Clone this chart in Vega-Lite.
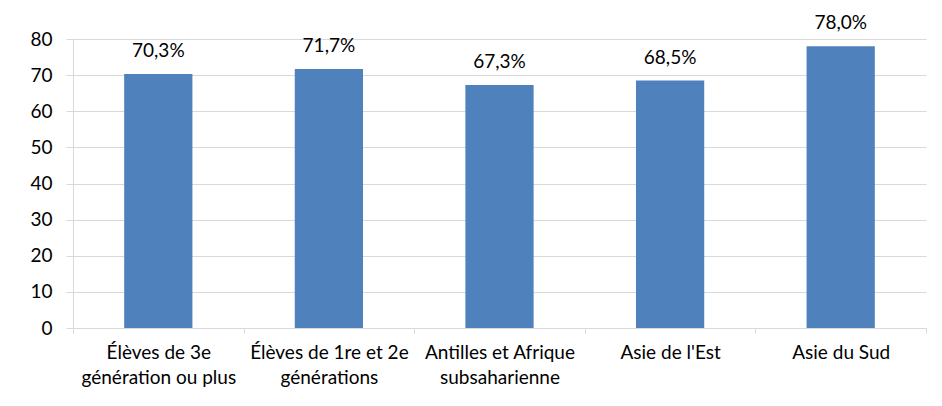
{
  "$schema": "https://vega.github.io/schema/vega-lite/v6.json",
  "autosize": {"type": "none"},
  "padding": {"left": 73, "top": 39, "right": 16, "bottom": 78},
  "width": 853,
  "height": 289,
  "background": "white",
  "data": {
    "values": [
      {"groupe": "Élèves de 3e|génération ou plus", "valeur": 70.3, "etiquette": "70,3%"},
      {"groupe": "Élèves de 1re et 2e|générations", "valeur": 71.7, "etiquette": "71,7%"},
      {"groupe": "Antilles et Afrique|subsaharienne", "valeur": 67.3, "etiquette": "67,3%"},
      {"groupe": "Asie de l'Est", "valeur": 68.5, "etiquette": "68,5%"},
      {"groupe": "Asie du Sud", "valeur": 78.0, "etiquette": "78,0%"}
    ]
  },
  "encoding": {
    "x": {
      "field": "groupe", "type": "nominal", "sort": null,
      "scale": {"paddingInner": 0, "paddingOuter": 0},
      "axis": {
        "title": null, "labelAngle": 0, "tickBand": "extent",
        "labelExpr": "split(datum.label, '|')",
        "labelFont": "Lato", "labelFontSize": 19, "labelColor": "#000000",
        "labelLineHeight": 25, "labelPadding": 10, "labelBaseline": "top",
        "tickSize": 5, "tickColor": "#d9d9d9", "domainColor": "#d9d9d9",
        "grid": false, "labelLimit": 300
      }
    },
    "y": {
      "field": "valeur", "type": "quantitative",
      "scale": {"domain": [0, 80]},
      "axis": {
        "title": null, "values": [0, 10, 20, 30, 40, 50, 60, 70, 80],
        "labelFont": "Lato", "labelFontSize": 19, "labelColor": "#000000",
        "labelPadding": 14, "tickSize": 7, "tickColor": "#d9d9d9",
        "domainColor": "#d9d9d9", "grid": true, "gridColor": "#d9d9d9"
      }
    }
  },
  "layer": [
    {"mark": {"type": "bar", "color": "#4F81BD", "width": {"band": 0.4}}},
    {
      "mark": {"type": "text", "baseline": "bottom", "dy": -13, "font": "Lato", "fontSize": 19, "color": "#000000"},
      "encoding": {"text": {"field": "etiquette"}}
    }
  ],
  "config": {"view": {"stroke": null}}
}
